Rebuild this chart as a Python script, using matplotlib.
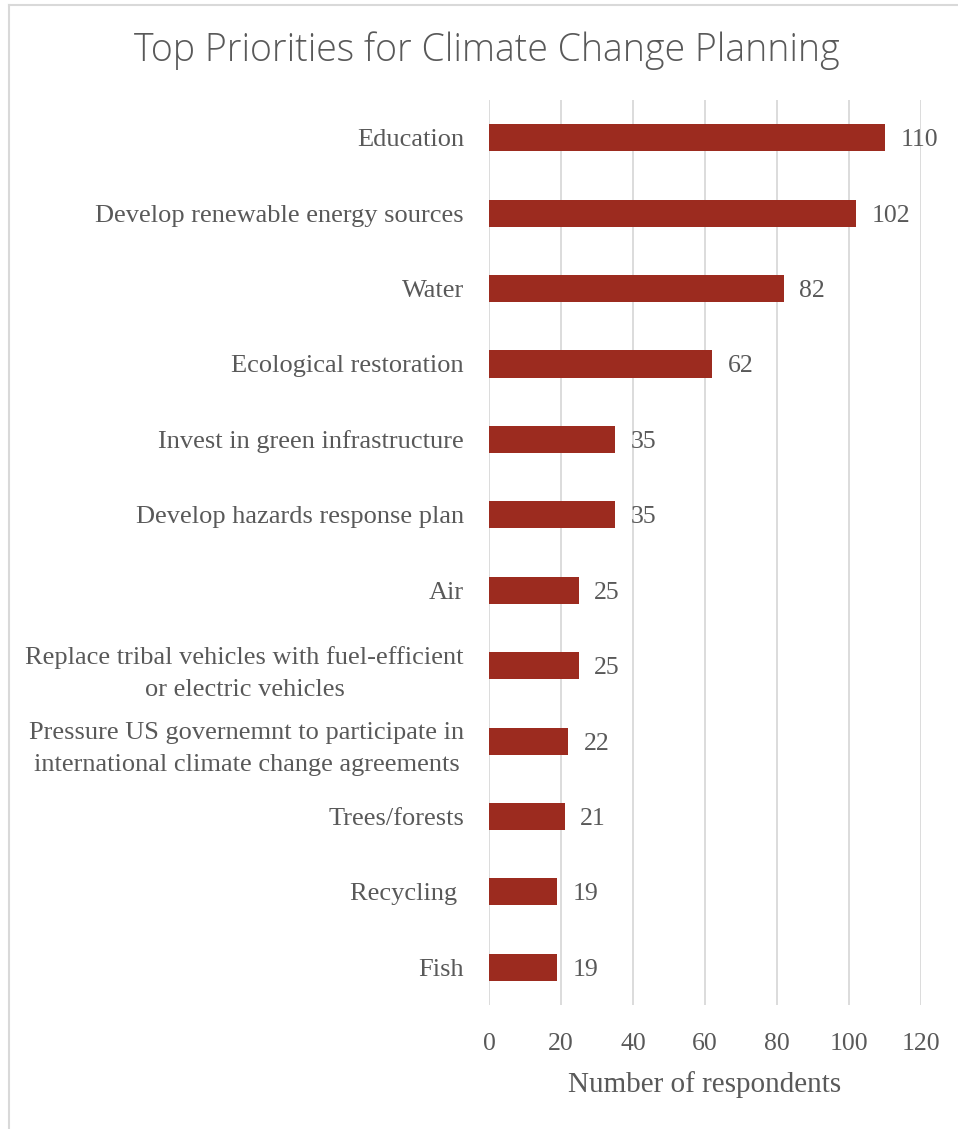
"""
horizontal bar chart: top priorities for climate change planning
"""
import matplotlib
matplotlib.use("Agg")
import matplotlib.pyplot as plt

categories = [
    "Education",
    "Develop renewable energy sources",
    "Water",
    "Ecological restoration",
    "Invest in green infrastructure",
    "Develop hazards response plan",
    "Air",
    "Replace tribal vehicles with fuel-efficient\nor electric vehicles",
    "Pressure US governemnt to participate in\ninternational climate change agreements",
    "Trees/forests",
    "Recycling ",
    "Fish",
]
respondents = [110, 102, 82, 62, 35, 35, 25, 25, 22, 21, 19, 19]
x_ticks = [0, 20, 40, 60, 80, 100, 120]

text_color = "#595959"
bar_color = "#9C2B1F"
grid_color = "#D9D9D9"
serif = "Liberation Serif"

fig = plt.figure(figsize=(9.58, 11.29), dpi=100)
ax = fig.add_axes([0.5104, 0.1098, 0.451, 0.8016])

pos = list(range(len(categories)))
ax.barh(pos, respondents, height=0.36, color=bar_color, zorder=3)
for p, v in zip(pos, respondents):
    ax.annotate(str(v), (v, p), xytext=(11, 0), textcoords="offset points",
                va="center_baseline", ha="left", fontsize=18.5, family=serif, color=text_color)

ax.set_ylim(len(categories) - 0.5, -0.5)
ax.set_xlim(0, 120)
ax.set_xticks(x_ticks)
ax.set_yticks(pos)
ax.set_yticklabels(categories, family=serif, fontsize=19, color=text_color,
                   multialignment="center", linespacing=1.6)
for lbl in ax.get_xticklabels():
    lbl.set_family(serif)
    lbl.set_fontsize(18.5)
    lbl.set_color(text_color)
ax.tick_params(length=0)
ax.tick_params(axis="y", pad=18)
ax.tick_params(axis="x", pad=20)
ax.grid(axis="x", color=grid_color, linewidth=1.3, zorder=0)
for s in ax.spines.values():
    s.set_visible(False)
ax.set_xlabel("Number of respondents", family=serif, fontsize=21, color=text_color, labelpad=12)

fig.text(0.508, 0.955, "Top Priorities for Climate Change Planning", ha="center", va="center",
         fontsize=27, family="Open Sans", weight="light", color=text_color)

# chart border (left and top)
fig.add_artist(plt.Line2D([0.009, 0.009], [0, 0.996], color=grid_color, lw=1.5))
fig.add_artist(plt.Line2D([0.009, 1], [0.996, 0.996], color=grid_color, lw=1.5))

fig.savefig("out.png", dpi=100)
